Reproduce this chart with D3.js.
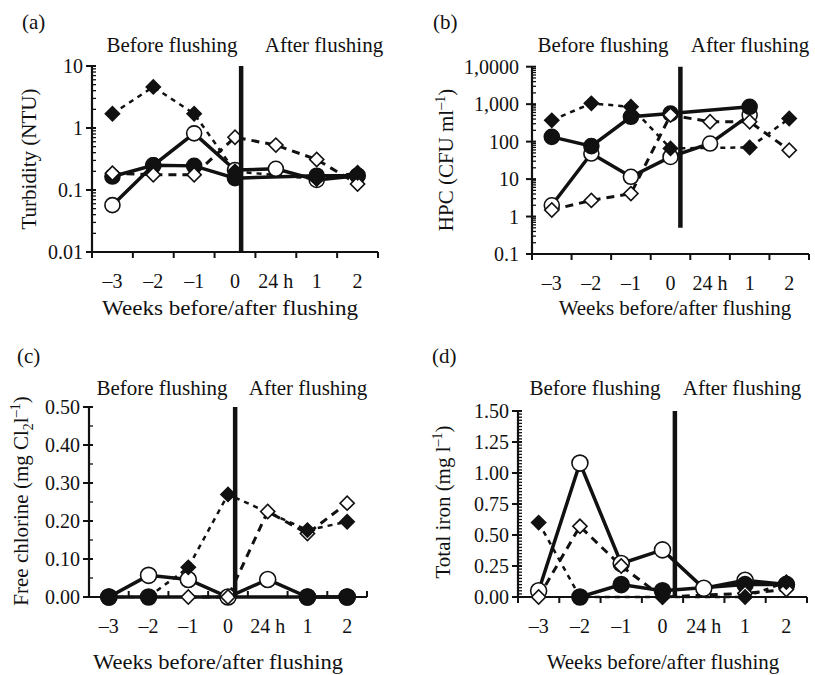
<!DOCTYPE html>
<html>
<head>
<meta charset="utf-8">
<script src="https://cdn.jsdelivr.net/npm/d3@7"></script>
<style>
  body { margin: 0; background: #fff; }
  svg text { font-family: "Liberation Serif", "Times New Roman", serif; fill: #111; }
</style>
</head>
<body>
<svg id="fig" width="815" height="675"></svg>
<script>
const weeks = ["–3", "–2", "–1", "0", "24 h", "1", "2"];

// (a) turbidity, NTU
const turbOpenCircle = [0.057, 0.25, 0.82, 0.21, 0.22, 0.145, 0.17];
const turbFilledCircle = [0.165, 0.25, 0.245, 0.155, null, 0.17, 0.17];
const turbOpenDiamond = [0.186, 0.176, 0.176, 0.71, 0.53, 0.31, 0.125];
const turbFilledDiamond = [1.7, 4.6, 1.7, 0.2, null, 0.15, 0.19];
const turbTicks = [0.01, 0.1, 1, 10];
const turbTickLabels = ["0.01", "0.1", "1", "10"];

// (b) HPC, CFU/ml
const hpcOpenCircle = [2.0, 48, 11.5, 39, 89, 510, null];
const hpcFilledCircle = [134, 76, 460, 560, null, 850, null];
const hpcOpenDiamond = [1.5, 2.7, 4.1, 510, 340, 340, 59];
const hpcFilledDiamond = [370, 1050, 850, 66, null, 70, 415];
const hpcTicks = [0.1, 1, 10, 100, 1000, 10000];
const hpcTickLabels = ["0.1", "1", "10", "100", "1,000", "1,0000"];

// (c) free chlorine, mg Cl2/l
const clOpenCircle = [0, 0.057, 0.046, 0, 0.046, 0, 0];
const clFilledCircle = [0, 0, null, null, null, 0, 0];
const clOpenDiamond = [null, null, 0, 0, 0.225, 0.167, 0.247];
const clFilledDiamond = [0, 0, 0.078, 0.27, null, 0.176, 0.198];
const clTicks = [0, 0.1, 0.2, 0.3, 0.4, 0.5];
const clTickLabels = ["0.00", "0.10", "0.20", "0.30", "0.40", "0.50"];

// (d) total iron, mg/l
const feOpenCircle = [0.05, 1.08, 0.27, 0.38, 0.07, 0.135, 0.1];
const feFilledCircle = [null, 0, 0.1, 0.05, null, 0.1, 0.1];
const feOpenDiamond = [0, 0.57, 0.25, 0, null, 0.03, 0.06];
const feFilledDiamond = [0.6, 0, null, 0, null, 0, 0.12];
const feTicks = [0, 0.25, 0.5, 0.75, 1, 1.25, 1.5];
const feTickLabels = ["0.00", "0.25", "0.50", "0.75", "1.00", "1.25", "1.50"];

const styles = {
	openCircle: { shape: "circle", fill: "#fff", dash: null, width: 3.5 },
	filledCircle: { shape: "circle", fill: "#111", dash: null, width: 3.5 },
	openDiamond: { shape: "diamond", fill: "#fff", dash: "8,6", width: 3 },
	filledDiamond: { shape: "diamond", fill: "#111", dash: "5,5", width: 2.5 },
};

const panels = [
	{
		tag: "(a)", tagX: 22, tagY: 29,
		box: { l: 92, r: 378, t: 66, b: 252 },
		log: true, domain: [0.01, 10], ticks: turbTicks, labels: turbTickLabels,
		series: [[turbOpenCircle, "openCircle"], [turbFilledCircle, "filledCircle"], [turbOpenDiamond, "openDiamond"], [turbFilledDiamond, "filledDiamond"]],
		flush: 3.15, flushEnd: null, r: 7.5,
		headY: 52, beforeX: 172, afterX: 324,
		xTitleX: 230, xTitleY: 315, xTitleLen: 256,
		yTitle: [{ t: "Turbidity (NTU)" }], yTitleX: 36, yTitleY: 159,
		labelGap: 9, xTickDir: 1,
	},
	{
		tag: "(b)", tagX: 433, tagY: 29,
		box: { l: 532, r: 809, t: 66.7, b: 254 },
		log: true, domain: [0.1, 10000], ticks: hpcTicks, labels: hpcTickLabels,
		series: [[hpcOpenCircle, "openCircle"], [hpcFilledCircle, "filledCircle"], [hpcOpenDiamond, "openDiamond"], [hpcFilledDiamond, "filledDiamond"]],
		flush: 3.25, flushEnd: 0.5, r: 7.5,
		headY: 52, beforeX: 603, afterX: 750,
		xTitleX: 675, xTitleY: 315, xTitleLen: null,
		yTitle: [{ t: "HPC (CFU ml" }, { t: "–1", sup: true }, { t: ")" }], yTitleX: 453, yTitleY: 160,
		labelGap: 13, xTickDir: 1,
	},
	{
		tag: "(c)", tagX: 17, tagY: 363,
		box: { l: 89, r: 367, t: 407, b: 597 },
		log: false, domain: [0, 0.5], ticks: clTicks, labels: clTickLabels, minorStep: 0.05,
		series: [[clOpenCircle, "openCircle"], [clFilledCircle, "filledCircle"], [clOpenDiamond, "openDiamond"], [clFilledDiamond, "filledDiamond"]],
		flush: 3.18, flushEnd: null, r: 8,
		headY: 395, beforeX: 162, afterX: 308,
		xTitleX: 218, xTitleY: 669, xTitleLen: 250,
		yTitle: [{ t: "Free chlorine (mg Cl" }, { t: "2", sub: true }, { t: "l" }, { t: "–1", sup: true }, { t: ")" }], yTitleX: 28, yTitleY: 501,
		labelGap: 9, xTickDir: -1,
	},
	{
		tag: "(d)", tagX: 432, tagY: 363,
		box: { l: 518, r: 807, t: 411, b: 597 },
		log: false, domain: [0, 1.5], ticks: feTicks, labels: feTickLabels, minorStep: 0.025,
		series: [[feOpenCircle, "openCircle"], [feFilledCircle, "filledCircle"], [feOpenDiamond, "openDiamond"], [feFilledDiamond, "filledDiamond"]],
		flush: 3.3, flushEnd: null, r: 8,
		headY: 395, beforeX: 595, afterX: 742,
		xTitleX: 663, xTitleY: 669, xTitleLen: null,
		yTitle: [{ t: "Total iron (mg l" }, { t: "–1", sup: true }, { t: ")" }], yTitleX: 450, yTitleY: 502,
		labelGap: 9, xTickDir: 1,
	},
];

const svg = d3.select("#fig");
const ink = "#111";

panels.forEach(drawPanel);

function drawPanel(p) {
	const g = svg.append("g");
	const { l, r, t, b } = p.box;
	const x = d3.scaleLinear().domain([-0.5, 6.5]).range([l, r]);
	const y = (p.log ? d3.scaleLog() : d3.scaleLinear()).domain(p.domain).range([b, t]);

	// minor y ticks (inside)
	const minor = p.log
		? y.ticks().filter((d) => !p.ticks.includes(d))
		: d3.range(p.domain[0], p.domain[1] + 1e-9, p.minorStep).filter((d) => !p.ticks.some((m) => Math.abs(m - d) < 1e-9));
	g.append("g").selectAll("line").data(minor).join("line")
		.attr("x1", l).attr("x2", l + 4)
		.attr("y1", (d) => y(d)).attr("y2", (d) => y(d))
		.attr("stroke", ink).attr("stroke-width", 1.3);

	// major y ticks + labels
	g.append("g").selectAll("line").data(p.ticks).join("line")
		.attr("x1", l - 6).attr("x2", l + 4)
		.attr("y1", (d) => y(d)).attr("y2", (d) => y(d))
		.attr("stroke", ink).attr("stroke-width", 2);
	g.append("g").selectAll("text").data(p.ticks).join("text")
		.attr("x", l - p.labelGap).attr("y", (d) => y(d)).attr("dy", "0.35em")
		.attr("text-anchor", "end").style("font-size", "20px")
		.text((d, i) => p.labels[i]);

	// x ticks at category boundaries + labels
	g.append("g").selectAll("line").data(d3.range(-0.5, 7, 1)).join("line")
		.attr("x1", (d) => x(d)).attr("x2", (d) => x(d))
		.attr("y1", b).attr("y2", b + 6 * p.xTickDir)
		.attr("stroke", ink).attr("stroke-width", 2);
	g.append("g").selectAll("text").data(weeks).join("text")
		.attr("x", (d, i) => x(i)).attr("y", b + 36)
		.attr("text-anchor", "middle").style("font-size", "20px")
		.text((d) => d);

	// axis lines
	g.append("line").attr("x1", l).attr("x2", l).attr("y1", t).attr("y2", b)
		.attr("stroke", ink).attr("stroke-width", 2.2);
	g.append("line").attr("x1", l).attr("x2", r).attr("y1", b).attr("y2", b)
		.attr("stroke", ink).attr("stroke-width", 2.2);

	// series lines
	const line = d3.line().x((d) => x(d.i)).y((d) => y(d.v));
	const seriesData = p.series.map(([vals, kind]) => ({
		kind,
		pts: vals.map((v, i) => ({ i, v })).filter((d) => d.v != null),
	}));
	g.append("g").selectAll("path").data(seriesData).join("path")
		.attr("d", (s) => line(s.pts))
		.attr("fill", "none").attr("stroke", ink)
		.attr("stroke-width", (s) => styles[s.kind].width)
		.attr("stroke-dasharray", (s) => styles[s.kind].dash);

	// markers
	const diamond = d3.symbol().type(d3.symbolSquare).size(100);
	seriesData.forEach((s) => {
		const st = styles[s.kind];
		const mg = g.append("g");
		if (st.shape === "circle") {
			mg.selectAll("circle").data(s.pts).join("circle")
				.attr("cx", (d) => x(d.i)).attr("cy", (d) => y(d.v)).attr("r", p.r)
				.attr("fill", st.fill).attr("stroke", ink).attr("stroke-width", 1.6);
		} else {
			mg.selectAll("path").data(s.pts).join("path")
				.attr("d", diamond)
				.attr("transform", (d) => `translate(${x(d.i)},${y(d.v)}) rotate(45)`)
				.attr("fill", st.fill).attr("stroke", ink).attr("stroke-width", 1.6);
		}
	});

	// flushing line
	g.append("line")
		.attr("x1", x(p.flush)).attr("x2", x(p.flush))
		.attr("y1", t).attr("y2", p.flushEnd == null ? b : y(p.flushEnd))
		.attr("stroke", ink).attr("stroke-width", 4.5);

	// texts
	g.append("text").attr("x", p.tagX).attr("y", p.tagY).style("font-size", "21px").text(p.tag);
	g.append("text").attr("x", p.beforeX).attr("y", p.headY).attr("text-anchor", "middle")
		.style("font-size", "21px").text("Before flushing");
	g.append("text").attr("x", p.afterX).attr("y", p.headY).attr("text-anchor", "middle")
		.style("font-size", "21px").text("After flushing");
	const xt = g.append("text").attr("x", p.xTitleX).attr("y", p.xTitleY).attr("text-anchor", "middle")
		.style("font-size", "21px").text("Weeks before/after flushing");
	if (p.xTitleLen) xt.attr("textLength", p.xTitleLen).attr("lengthAdjust", "spacingAndGlyphs");

	const yt = g.append("text")
		.attr("transform", `translate(${p.yTitleX},${p.yTitleY}) rotate(-90)`)
		.attr("text-anchor", "middle").style("font-size", "21px");
	let shift = 0;
	p.yTitle.forEach((part) => {
		const target = part.sup ? -8 : part.sub ? 5 : 0;
		yt.append("tspan")
			.attr("dy", target - shift)
			.style("font-size", part.sup || part.sub ? "14px" : null)
			.text(part.t);
		shift = target;
	});
}
</script>
</body>
</html>
